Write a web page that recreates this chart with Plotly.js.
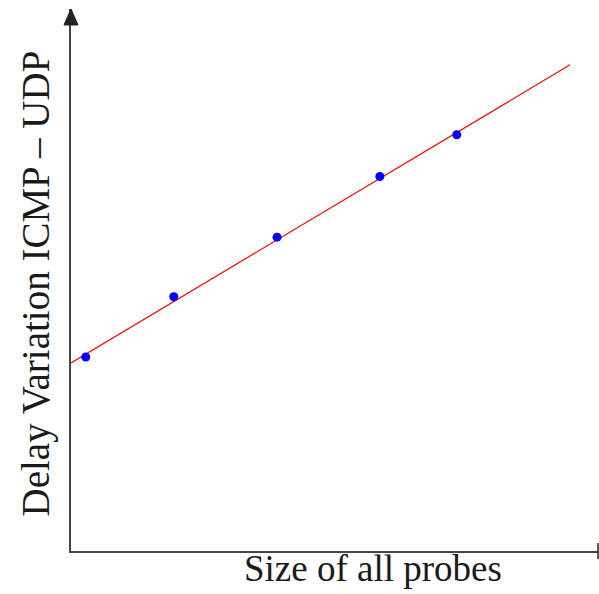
<!DOCTYPE html>
<html>
<head>
<meta charset="utf-8">
<script src="https://cdn.plot.ly/plotly-3.0.1.min.js"></script>
<style>html,body{margin:0;padding:0;background:#fff;}#chart{width:599px;height:594px;}</style>
</head>
<body>
<div id="chart"></div>
<script>
// Measured probe points (arbitrary units)
const probeSize = [0.28, 1.95, 3.91, 5.86, 7.32];
const delayVariation = [3.58, 4.69, 5.79, 6.91, 7.68];
// Fitted regression line endpoints
const fitX = [0, 9.47];
const fitY = [3.47, 8.97];
const xTitle = "Size of all probes";
const yTitle = "Delay Variation ICMP \u2013 UDP";

const traces = [
  {x: fitX, y: fitY, mode: 'lines', type: 'scatter',
   line: {color: '#ff0000', width: 1.2}, hoverinfo: 'skip'},
  {x: probeSize, y: delayVariation, mode: 'markers', type: 'scatter',
   marker: {color: '#0000ff', size: 9}}
];

const axisColor = '#444444';
const layout = {
  width: 599, height: 594,
  margin: {l: 71, r: 1, t: 9, b: 43},
  paper_bgcolor: '#ffffff', plot_bgcolor: '#ffffff',
  showlegend: false,
  font: {family: 'Liberation Serif, Times New Roman, serif', color: '#222'},
  xaxis: {range: [0, 10], showline: true, linecolor: axisColor, linewidth: 2,
          showgrid: false, zeroline: false, showticklabels: false, ticks: ''},
  yaxis: {range: [0, 10], showline: true, linecolor: axisColor, linewidth: 2,
          showgrid: false, zeroline: false, showticklabels: false, ticks: ''},
  shapes: [
    {type: 'path', xref: 'paper', yref: 'paper',
     path: 'M -0.0133 0.9705 L 0.0133 0.9705 L 0 1 Z',
     fillcolor: '#222222', line: {color: '#222222', width: 1}},
    {type: 'line', xref: 'paper', yref: 'paper', x0: 1, x1: 1, y0: -0.0148, y1: 0.0148,
     line: {color: '#222222', width: 1.5}}
  ],
  annotations: [
    {text: xTitle, xref: 'paper', yref: 'paper', x: 0.573, y: -0.0332,
     xanchor: 'center', yanchor: 'middle', showarrow: false,
     font: {size: 37, family: 'Liberation Serif, serif', color: '#1a1a1a'}},
    {text: yTitle, xref: 'paper', yref: 'paper', x: -0.0665, y: 0.4935,
     xanchor: 'center', yanchor: 'middle', textangle: -90, showarrow: false,
     font: {size: 39, family: 'Liberation Serif, serif', color: '#1a1a1a'}}
  ]
};

Plotly.newPlot('chart', traces, layout, {displayModeBar: false, staticPlot: true});
</script>
</body>
</html>
